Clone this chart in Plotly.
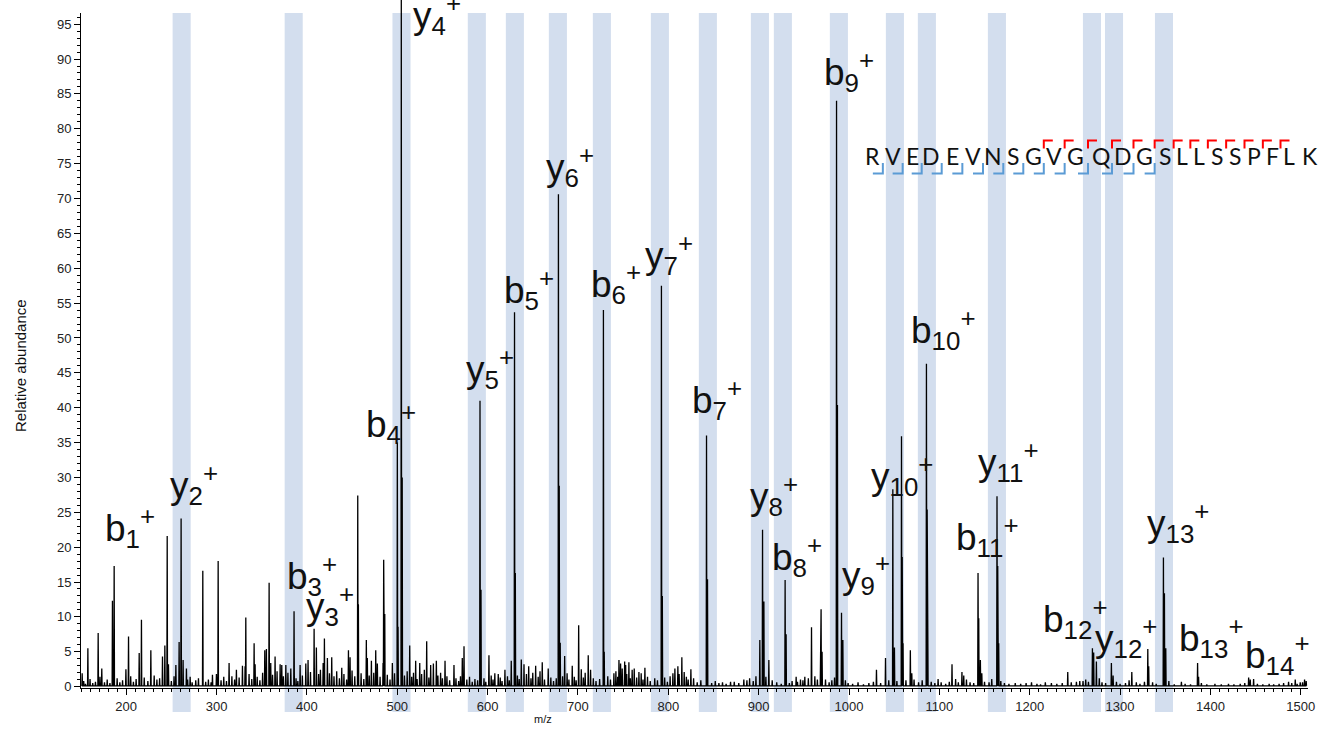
import plotly.graph_objects as go

# ---------------- spectrum data ----------------
# centroid m/z and relative abundance of the resolved peaks
peak_mz = [
    151.3, 157.6, 169.0, 173.0, 184.8, 186.7, 199.7, 202.6, 214.4, 216.9,
    227.3, 240.2, 242.8, 245.4, 246.8, 255.0, 258.6, 260.8, 263.0, 266.7,
    270.8, 284.8, 295.5, 299.9, 301.8, 313.9, 322.0, 328.7, 331.6, 332.4,
    341.6, 342.7, 353.4, 355.2, 358.2, 360.0, 364.8, 370.4, 372.2, 376.7,
    382.2, 385.8, 392.5, 398.8, 401.3, 408.0, 410.5, 418.0, 419.4, 422.7,
    427.5, 438.6, 446.0, 447.8, 456.3, 457.0, 465.8, 466.9, 471.4, 476.2,
    478.0, 484.3, 485.0, 486.2, 494.6, 500.1, 500.9, 504.5, 505.5, 513.8,
    520.4, 524.9, 532.6, 537.0, 540.0, 543.3, 552.9, 562.8, 572.0, 573.9,
    591.6, 592.7, 601.5, 611.8, 619.2, 626.2, 629.8, 630.7, 637.3, 640.3,
    645.5, 653.2, 660.5, 667.1, 678.4, 679.3, 680.4, 685.3, 693.7, 700.8,
    703.7, 711.4, 714.0, 728.2, 729.1, 739.8, 745.4, 747.2, 751.7, 752.8,
    756.4, 762.3, 767.5, 774.1, 792.4, 793.4, 805.1, 807.3, 810.6, 815.0,
    817.6, 825.0, 842.3, 843.4, 856.0, 868.9, 883.6, 901.3, 904.3, 905.8,
    911.3, 929.3, 930.4, 941.5, 946.3, 951.1, 958.5, 962.2, 968.5, 969.1,
    970.2, 974.0, 986.2, 987.2, 991.7, 993.2, 1030.4, 1040.4, 1048.5, 1050.3,
    1058.1, 1058.9, 1059.8, 1067.9, 1069.5, 1085.7, 1086.5, 1087.2, 1098.6, 1114.0,
    1125.0, 1127.0, 1142.8, 1143.6, 1145.4, 1147.0, 1163.8, 1164.6, 1165.7, 1184.0,
    1202.0, 1217.3, 1224.0, 1242.1, 1251.7, 1255.4, 1269.4, 1270.8, 1273.8, 1290.4,
    1292.3, 1313.0, 1330.7, 1331.7, 1348.0, 1349.1, 1350.6, 1367.9, 1385.8, 1386.9,
    1442.3, 1444.1, 1447.8, 1481.0, 1486.5, 1493.9, 1499.4, 1504.2,
]
peak_int = [
    1.9, 5.5, 7.7, 2.6, 12.3, 17.3, 2.5, 7.2, 4.8, 9.6,
    5.2, 4.3, 5.9, 21.6, 3.2, 3.1, 6.4, 24.1, 3.8, 2.6,
    1.4, 16.6, 1.7, 1.8, 18.0, 3.4, 2.4, 3.0, 2.9, 9.9,
    6.2, 3.2, 5.2, 5.4, 14.9, 3.4, 4.3, 3.2, 3.1, 3.1,
    2.6, 10.8, 3.1, 3.3, 3.8, 8.3, 5.6, 3.4, 6.9, 4.1,
    4.2, 2.7, 5.2, 4.2, 27.4, 11.8, 6.7, 4.1, 3.7, 5.2,
    3.3, 3.4, 18.2, 10.4, 3.4, 35.0, 8.6, 100.0, 30.0, 5.9,
    3.7, 3.4, 6.5, 3.1, 3.3, 3.7, 3.7, 3.1, 4.1, 5.8,
    41.0, 13.9, 4.5, 1.8, 2.4, 3.7, 53.7, 16.3, 3.9, 3.2,
    2.9, 3.0, 3.5, 2.6, 70.6, 28.8, 6.3, 4.4, 3.0, 8.8,
    2.5, 4.5, 2.4, 54.0, 5.0, 1.9, 3.8, 3.3, 3.6, 3.1,
    3.5, 2.6, 2.1, 2.7, 57.5, 13.0, 1.9, 2.6, 2.9, 4.2,
    2.1, 2.5, 36.0, 15.4, 0.5, 0.7, 1.0, 6.7, 22.5, 12.2,
    3.8, 15.3, 7.5, 1.4, 1.0, 1.4, 8.5, 1.5, 7.1, 11.1,
    5.0, 1.0, 84.0, 40.4, 10.6, 6.7, 2.4, 4.1, 28.3, 5.6,
    35.9, 18.6, 6.2, 5.2, 1.9, 46.3, 25.4, 5.0, 1.1, 3.2,
    2.1, 1.6, 16.3, 9.8, 3.8, 1.9, 27.3, 17.3, 6.2, 0.5,
    0.6, 0.6, 0.5, 2.1, 0.7, 0.8, 5.5, 4.9, 3.6, 3.4,
    1.6, 2.1, 5.4, 2.9, 18.5, 13.4, 5.5, 0.7, 3.4, 1.4,
    1.3, 1.0, 1.1, 0.5, 0.7, 1.0, 0.6, 1.0,
]

# low-level chemical noise along the baseline (m/z, abundance)
baseline_peaks = [
    (153, 0.8), (155, 0.4), (160, 1.1), (163, 0.5), (166, 0.7), (171, 1.4), (176, 0.6),
    (179, 1.0), (182, 0.5), (190, 1.2), (193, 0.6), (196, 0.9), (205, 1.5), (208, 0.7),
    (211, 1.1), (220, 1.3), (224, 0.8), (231, 1.6), (234, 1.0), (237, 1.2), (250, 0.8),
    (253, 1.5), (268, 1.0), (273, 0.6), (277, 0.9), (280, 1.2), (288, 0.7), (291, 1.0),
    (294, 0.6), (305, 0.9), (308, 1.4), (311, 0.8), (317, 1.5), (320, 1.0), (325, 1.3),
    (336, 1.8), (339, 1.1), (345, 1.4), (348, 0.9), (351, 2.0), (362, 1.7), (367, 2.2),
    (374, 1.5), (379, 2.0), (388, 1.2), (390, 0.8), (395, 1.6), (404, 2.1), (413, 1.8),
    (415, 2.4), (425, 1.9), (430, 1.5), (433, 2.2), (436, 1.2), (441, 1.8), (444, 1.0),
    (450, 2.3), (453, 1.5), (460, 1.9), (463, 1.1), (469, 1.6), (474, 2.0), (481, 1.4),
    (489, 1.7), (492, 1.0), (497, 1.9), (508, 1.6), (511, 2.2), (516, 1.4), (518, 2.0),
    (522, 1.1), (527, 1.8), (530, 2.4), (535, 1.3), (545, 1.6), (548, 2.0), (550, 1.2),
    (555, 1.5), (558, 0.9), (565, 1.2), (568, 0.8), (570, 1.5), (577, 1.0), (580, 1.4),
    (583, 0.7), (586, 1.1), (589, 0.9), (596, 1.2), (598, 0.7), (604, 1.6), (606, 1.0),
    (608, 1.9), (614, 1.3), (616, 0.8), (622, 1.5), (624, 0.9), (633, 1.6), (635, 1.1),
    (643, 1.8), (648, 1.2), (650, 2.0), (656, 1.4), (658, 2.2), (663, 1.0), (670, 1.3),
    (673, 0.8), (676, 1.2), (683, 1.5), (688, 1.9), (690, 1.0), (696, 1.4), (698, 0.9),
    (706, 1.3), (708, 2.0), (717, 1.2), (720, 0.8), (724, 1.1), (733, 1.5), (736, 1.0),
    (742, 2.2), (744, 1.4), (749, 2.6), (754, 1.8), (758, 1.2), (760, 2.4), (765, 1.3),
    (770, 1.9), (772, 1.0), (777, 1.4), (780, 0.8), (785, 1.2), (788, 0.9), (796, 1.3),
    (799, 0.7), (802, 1.5), (812, 1.8), (820, 1.4), (822, 1.0), (828, 1.2), (832, 0.6),
    (836, 0.9), (848, 0.5), (852, 0.8), (860, 0.6), (864, 0.4), (873, 0.7), (878, 0.5),
    (887, 0.9), (890, 1.2), (894, 0.8), (897, 1.5), (908, 1.4), (915, 0.9), (920, 0.6),
    (925, 0.4), (934, 0.5), (937, 0.8), (943, 0.7), (949, 0.9), (955, 1.2), (965, 1.0),
    (978, 0.6), (981, 0.9), (984, 1.3), (996, 0.9), (999, 0.5), (1004, 0.4), (1010, 0.6),
    (1016, 0.3), (1022, 0.5), (1027, 0.7), (1035, 0.5), (1044, 0.9), (1053, 0.8),
    (1063, 0.9), (1072, 1.0), (1077, 0.6), (1081, 0.9), (1091, 0.7), (1095, 0.5),
    (1102, 0.6), (1107, 0.4), (1111, 0.7), (1118, 1.1), (1121, 0.6), (1130, 1.0),
    (1134, 0.6), (1138, 0.5), (1150, 0.7), (1155, 0.6), (1158, 1.1), (1168, 0.8),
    (1172, 0.5), (1177, 0.4), (1190, 0.4), (1196, 0.5), (1208, 0.4), (1212, 0.3),
    (1230, 0.4), (1236, 0.5), (1246, 0.6), (1259, 0.8), (1262, 1.0), (1265, 0.7),
    (1277, 1.2), (1280, 0.6), (1284, 0.5), (1296, 0.7), (1300, 0.4), (1306, 0.5),
    (1310, 0.9), (1318, 0.6), (1322, 0.4), (1327, 0.7), (1336, 0.6), (1340, 0.4),
    (1354, 0.8), (1360, 0.3), (1372, 0.4), (1378, 0.3), (1390, 0.5), (1396, 0.3),
    (1405, 0.4), (1412, 0.3), (1420, 0.4), (1426, 0.3), (1433, 0.4), (1438, 0.5),
    (1452, 0.4), (1458, 0.3), (1465, 0.4), (1470, 0.3), (1476, 0.4), (1490, 0.5),
    (1496, 0.4), (1502, 0.6), (1506, 0.8),
]

# m/z of the matched fragment ions (highlight windows)
matched_mz = [261.4, 385.4, 504.7, 588.1, 630.2, 677.8, 726.5, 790.7, 843.8,
              901.4, 926.8, 988.8, 1050.8, 1086.2, 1163.7, 1268.9, 1293.3, 1348.6]
match_window = 20.0  # m/z width of each highlight

# fragment ion labels
ion_labels = ["b1", "y2", "b3", "y3", "b4", "y4", "y5", "b5", "y6", "b6", "y7", "b7",
              "y8", "b8", "b9", "y9", "y10", "b10", "b11", "y11", "b12", "y12",
              "y13", "b13", "b14"]

# peptide and observed cleavages
sequence = "RVEDEVNSGVGQDGSLLSSPFLK"
b_ion_numbers = list(range(1, 15))   # b1 .. b14
y_ion_numbers = list(range(2, 15))   # y2 .. y14

# ---------------- layout constants ----------------
W, H = 1318, 729
PLOT_L, PLOT_R, PLOT_T, PLOT_B = 81, 1308, 13, 688
X_RANGE = [150, 1508]
Y_RANGE = [-0.2, 96.6]

# label centres in pixels (x, y)
LABEL_PX = {
    "b1": (130, 527), "y2": (194, 484), "b3": (312, 575), "y3": (330, 605),
    "b4": (391, 423), "y4": (437, 14), "y5": (490, 368), "b5": (529, 289),
    "y6": (570, 167), "b6": (616, 283), "y7": (669, 254), "b7": (717, 400),
    "y8": (774, 495), "b8": (797, 556), "b9": (849, 71), "y9": (866, 574),
    "y10": (902, 475), "b10": (943, 329), "b11": (987, 536), "y11": (1008, 461),
    "b12": (1075, 618), "y12": (1126, 637), "y13": (1178, 522), "b13": (1211, 637),
    "b14": (1277, 654),
}
# residue centres of the sequence read-out, pixels
SEQ_X_PX = [872.4, 893.3, 912.0, 931.4, 952.0, 972.7, 993.3, 1013.3, 1033.3, 1054.3,
            1075.0, 1101.0, 1123.0, 1144.0, 1165.3, 1182.0, 1198.7, 1217.0, 1235.3,
            1253.7, 1272.0, 1289.0, 1310.0]
SEQ_Y_PX = 156.3

FONT = "Liberation Sans, Arial, sans-serif"
INK = "#111111"
BAND = "#D3DEEE"


def px_x(px):
    return (px - PLOT_L) / (PLOT_R - PLOT_L)


def px_y(py):
    return (PLOT_B - py) / (PLOT_B - PLOT_T)


# ---------------- profile trace ----------------
all_peaks = sorted(list(zip(peak_mz, peak_int)) + baseline_peaks)
xs, ys = [], []
for m, h in all_peaks:
    xs += [m - 0.35, m, m + 0.35]
    ys += [0.1, h, 0.1]

fig = go.Figure()
fig.add_trace(go.Scatter(x=xs, y=ys, mode="lines",
                         line=dict(color="#000000", width=1.3),
                         hoverinfo="skip", showlegend=False))

shapes = []
band_bottom = px_y(712)
for m in matched_mz:
    shapes.append(dict(type="rect", xref="x", yref="paper",
                       x0=m - match_window / 2, x1=m + match_window / 2,
                       y0=band_bottom, y1=1, fillcolor=BAND,
                       line=dict(width=0), layer="below"))

# peaks running off the top of the axis continue to the page edge
for m, h in zip(peak_mz, peak_int):
    if h > Y_RANGE[1]:
        shapes.append(dict(type="line", xref="x", yref="paper", x0=m, x1=m,
                           y0=1, y1=px_y(0), line=dict(color="#000000", width=1.3)))

annotations = []
for name in ion_labels:
    kind, num = name[0], name[1:]
    cx, cy = LABEL_PX[name]
    annotations.append(dict(
        text=f"{kind}<sub>{num}</sub><sup>+</sup>",
        xref="paper", yref="paper", x=px_x(cx), y=px_y(cy),
        xanchor="center", yanchor="middle", showarrow=False,
        font=dict(family=FONT, size=37, color=INK)))

# sequence read-out with cleavage markers
for ch, cx in zip(sequence, SEQ_X_PX):
    annotations.append(dict(
        text=ch, xref="paper", yref="paper", x=px_x(cx), y=px_y(SEQ_Y_PX),
        xanchor="center", yanchor="middle", showarrow=False,
        font=dict(family="Lato, Open Sans, sans-serif", size=23, color=INK)))

n_res = len(sequence)
for k in b_ion_numbers:
    xm = (SEQ_X_PX[k - 1] + SEQ_X_PX[k]) / 2
    path = (f"M {px_x(xm - 10)} {px_y(173.5)} L {px_x(xm)} {px_y(173.5)} "
            f"L {px_x(xm)} {px_y(163)}")
    shapes.append(dict(type="path", xref="paper", yref="paper", path=path,
                       line=dict(color="#5B9BD5", width=2)))
for k in y_ion_numbers:
    i = n_res - k
    xm = (SEQ_X_PX[i - 1] + SEQ_X_PX[i]) / 2
    path = (f"M {px_x(xm)} {px_y(148.5)} L {px_x(xm)} {px_y(140.5)} "
            f"L {px_x(xm + 9)} {px_y(140.5)}")
    shapes.append(dict(type="path", xref="paper", yref="paper", path=path,
                       line=dict(color="#FF0000", width=2)))

# axis titles
annotations.append(dict(text="Relative abundance", xref="paper", yref="paper",
                        x=px_x(20), y=px_y(366), textangle=-90,
                        xanchor="center", yanchor="middle", showarrow=False,
                        font=dict(family=FONT, size=15, color=INK)))
annotations.append(dict(text="m/z", xref="paper", yref="paper",
                        x=px_x(543), y=px_y(719),
                        xanchor="center", yanchor="middle", showarrow=False,
                        font=dict(family=FONT, size=11, color=INK)))

axis_common = dict(showgrid=False, zeroline=False, showline=True,
                   linecolor="#000000", linewidth=1, ticks="outside",
                   tickcolor="#000000", ticklen=6, tickwidth=1,
                   automargin=False, ticklabeloverflow="allow",
                   tickfont=dict(family=FONT, size=13, color="#222222"))

fig.update_layout(
    width=W, height=H,
    margin=dict(l=PLOT_L, r=W - PLOT_R, t=PLOT_T, b=H - PLOT_B, autoexpand=False),
    paper_bgcolor="white", plot_bgcolor="white",
    xaxis=dict(range=X_RANGE, tick0=0, dtick=100,
               minor=dict(dtick=10, ticks="outside", ticklen=3,
                          tickcolor="#000000", showgrid=False),
               **axis_common),
    yaxis=dict(range=Y_RANGE, tick0=0, dtick=5,
               minor=dict(dtick=1, ticks="outside", ticklen=3,
                          tickcolor="#000000", showgrid=False),
               **axis_common),
    shapes=shapes, annotations=annotations, showlegend=False,
)

fig.write_html("out.html")
